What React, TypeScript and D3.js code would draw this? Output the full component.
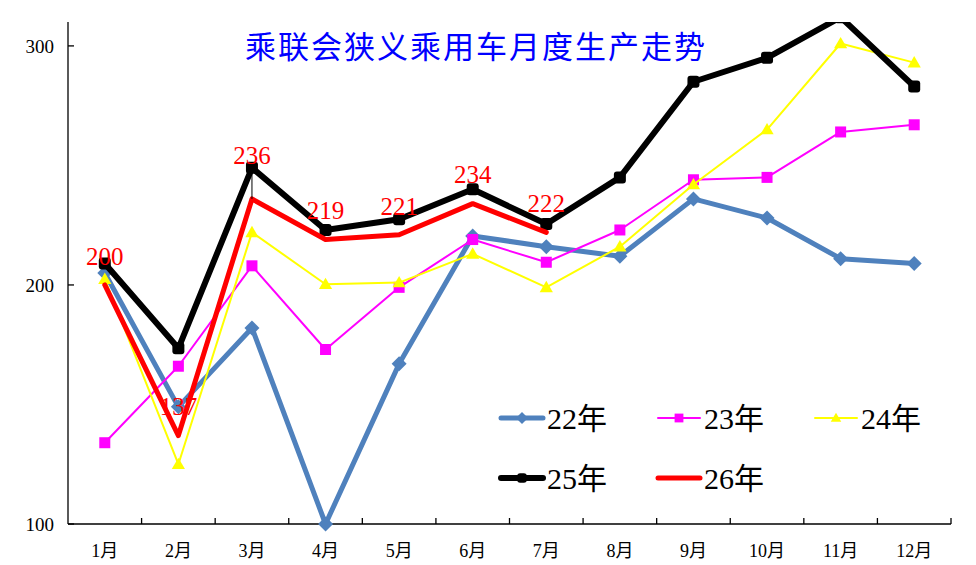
import React from "react";
import * as d3 from "d3";

const months = ["1月", "2月", "3月", "4月", "5月", "6月", "7月", "8月", "9月", "10月", "11月", "12月"];
const s22 = [205, 149, 182, 100, 167, 220.5, 216, 212, 236, 228, 211, 209];
const s23 = [134, 166, 208, 173, 199, 219, 209.5, 223, 244, 245, 264, 267];
const s24 = [202.4, 125, 222, 200.3, 201, 213, 199, 216, 242, 265, 301, 293];
const s25 = [209, 173.5, 249, 223, 227.5, 240, 225.5, 245, 285, 295, 312, 283];
const s26 = [200, 137, 236, 219, 221, 234, 222];
const yTicks = [100, 200, 300];
const title = "乘联会狭义乘用车月度生产走势";

const W = 976, H = 565;
const L = 68, R = 951, T = 22, B = 524;

const x = d3.scaleBand<string>().domain(months).range([L, R]).padding(0);
const y = d3.scaleLinear().domain([100, 310]).range([B, T]);
const cx = (i: number) => (x(months[i]) as number) + x.bandwidth() / 2;

type Series = { name: string; data: number[]; color: string; width: number; marker: string; size: number };
const series: Series[] = [
  { name: "22年", data: s22, color: "#4F81BD", width: 5, marker: "diamond", size: 15 },
  { name: "23年", data: s23, color: "#FF00FF", width: 2, marker: "square", size: 11 },
  { name: "24年", data: s24, color: "#FFFF00", width: 2, marker: "triangle", size: 12 },
  { name: "25年", data: s25, color: "#000000", width: 6, marker: "rsquare", size: 12 },
  { name: "26年", data: s26, color: "#FF0000", width: 5, marker: "none", size: 0 },
];

const lineGen = d3.line<number>().x((_, i) => cx(i)).y((d) => y(d));

function Marker({ type, px, py, size, color }: { type: string; px: number; py: number; size: number; color: string }) {
  const h = size / 2;
  if (type === "diamond") {
    return <path d={`M${px},${py - h}L${px + h},${py}L${px},${py + h}L${px - h},${py}Z`} fill={color} />;
  }
  if (type === "square") {
    return <rect x={px - h} y={py - h} width={size} height={size} fill={color} />;
  }
  if (type === "triangle") {
    return <path d={`M${px},${py - h * 1.1}L${px + h * 1.1},${py + h * 0.8}L${px - h * 1.1},${py + h * 0.8}Z`} fill={color} />;
  }
  if (type === "rsquare") {
    return <rect x={px - h} y={py - h} width={size} height={size} rx={3} fill={color} />;
  }
  return null;
}

const serif = "'Liberation Serif', 'Noto Sans CJK SC', serif";

export default function App() {
  const legendPos = [
    { lx: 501, ly: 418 },
    { lx: 658, ly: 418 },
    { lx: 815, ly: 418 },
    { lx: 501, ly: 478 },
    { lx: 658, ly: 478 },
  ];
  return (
    <div style={{ position: "absolute", left: 0, top: 0 }}>
      <style>{`body{margin:0}`}</style>
      <svg width={W} height={H} style={{ display: "block", background: "#fff" }}>
        <defs>
          <clipPath id="plot">
            <rect x={L} y={T} width={R - L + 10} height={B - T + 10} />
          </clipPath>
        </defs>
        {/* axes */}
        <line x1={L} y1={T} x2={L} y2={B} stroke="#000" strokeWidth={1.3} />
        <line x1={L} y1={B} x2={R} y2={B} stroke="#000" strokeWidth={1.3} />
        {yTicks.map((t) => (
          <g key={t}>
            <line x1={L} x2={L + 6} y1={y(t)} y2={y(t)} stroke="#000" strokeWidth={1.3} />
            <text x={54} y={y(t)} dy="0.35em" textAnchor="end" fontFamily={serif} fontSize={19} fill="#000">
              {t}
            </text>
          </g>
        ))}
        {months.map((m, i) => (
          <g key={m}>
            <line
              x1={(x(m) as number) + x.bandwidth()}
              x2={(x(m) as number) + x.bandwidth()}
              y1={B}
              y2={B - 6}
              stroke="#000"
              strokeWidth={1.3}
            />
            <text x={cx(i)} y={557} textAnchor="middle" fontFamily={serif} fontSize={18} fill="#000">
              {m}
            </text>
          </g>
        ))}
        {/* title */}
        <text x={476} y={58} textAnchor="middle" fontFamily="'Noto Sans CJK SC', sans-serif" fontSize={31} fill="#0000FF" letterSpacing={2}>
          {title}
        </text>
        {/* series */}
        <g clipPath="url(#plot)">
          {series.map((s) => (
            <g key={s.name}>
              <path d={lineGen(s.data) || ""} fill="none" stroke={s.color} strokeWidth={s.width} strokeLinejoin="round" strokeLinecap="round" />
              {s.data.map((v, i) => (
                <Marker key={i} type={s.marker} px={cx(i)} py={y(v)} size={s.size} color={s.color} />
              ))}
            </g>
          ))}
          {/* leader lines for displaced labels */}
          {s26.map((v, i) => {
            const diff = s25[i] - v;
            if (diff > 10 && diff < 20) {
              return <line key={i} x1={cx(i)} x2={cx(i)} y1={y(s25[i])} y2={y(v)} stroke="#000" strokeWidth={1} />;
            }
            return null;
          })}
        </g>
        {/* data labels for 26年 */}
        {s26.map((v, i) => {
          const diff = s25[i] - v;
          const ly = diff > 10 && diff < 20 ? y(s25[i]) - 13 : y(v) - 29;
          return (
            <text key={i} x={cx(i)} y={ly} dy="0.35em" textAnchor="middle" fontFamily={serif} fontSize={25} fill="#FF0000">
              {Math.round(v)}
            </text>
          );
        })}
        {/* legend */}
        {series.map((s, i) => {
          const p = legendPos[i];
          return (
            <g key={s.name}>
              <line x1={p.lx} x2={p.lx + 42} y1={p.ly} y2={p.ly} stroke={s.color} strokeWidth={s.width} strokeLinecap="round" />
              <Marker type={s.marker} px={p.lx + 21} py={p.ly} size={s.size * 0.8} color={s.color} />
              <text x={p.lx + 46} y={p.ly} dy="0.36em" fontFamily={serif} fontSize={30} fill="#000">
                {s.name}
              </text>
            </g>
          );
        })}
      </svg>
    </div>
  );
}
